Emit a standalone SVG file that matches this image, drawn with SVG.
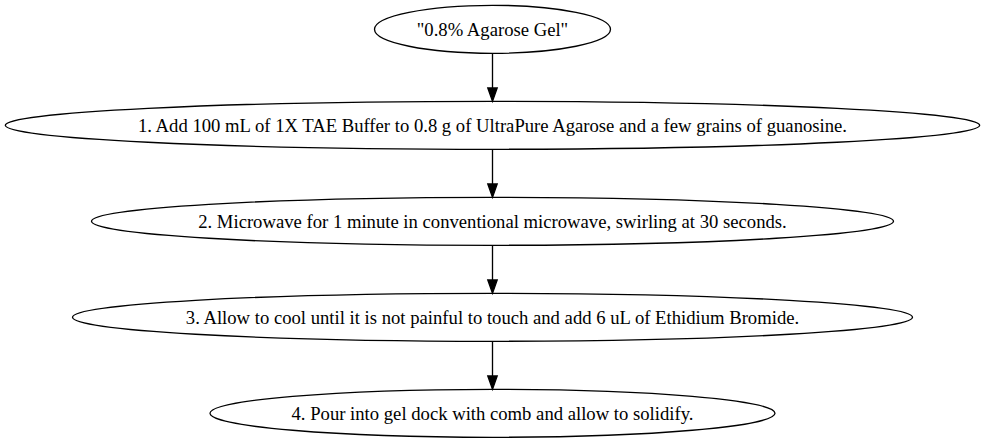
<svg xmlns="http://www.w3.org/2000/svg" width="985" height="443" viewBox="0 0 985 443">
  <style>
    .node ellipse { fill: none; stroke: #000; stroke-width: 1.33; }
    .node text { font-family: "Liberation Serif", "Times New Roman", serif; font-size: 18.67px; fill: #000; text-anchor: middle; }
    .edge line { stroke: #000; stroke-width: 1.33; }
    .edge polygon { fill: #000; stroke: #000; stroke-width: 1.33; }
  </style>
  <rect width="985" height="443" fill="#fff"/>

  <!-- connectors -->
  <g id="edges">
    <g class="edge"><line x1="492.5" y1="53.3" x2="492.5" y2="88"/><polygon points="487.8,88 492.5,101.3 497.2,88"/></g>
    <g class="edge"><line x1="492.5" y1="149.3" x2="492.5" y2="184"/><polygon points="487.8,184 492.5,197.3 497.2,184"/></g>
    <g class="edge"><line x1="492.5" y1="245.3" x2="492.5" y2="280"/><polygon points="487.8,280 492.5,293.3 497.2,280"/></g>
    <g class="edge"><line x1="492.5" y1="341.3" x2="492.5" y2="376"/><polygon points="487.8,376 492.5,389.3 497.2,376"/></g>
  </g>

  <g id="node0" class="node">
    <ellipse cx="492.5" cy="29.3" rx="118" ry="24"/>
    <text x="492.5" y="36.3">"0.8% Agarose Gel"</text>
  </g>
  <g id="node1" class="node">
    <ellipse cx="492.5" cy="125.3" rx="487.2" ry="24"/>
    <text x="492.5" y="132.3">1. Add 100 mL of 1X TAE Buffer to 0.8 g of UltraPure Agarose and a few grains of guanosine.</text>
  </g>
  <g id="node2" class="node">
    <ellipse cx="492.5" cy="221.3" rx="401" ry="24"/>
    <text x="492.5" y="228.3">2. Microwave for 1 minute in conventional microwave, swirling at 30 seconds.</text>
  </g>
  <g id="node3" class="node">
    <ellipse cx="492.5" cy="317.3" rx="420" ry="24"/>
    <text x="492.5" y="324.3">3. Allow to cool until it is not painful to touch and add 6 uL of Ethidium Bromide.</text>
  </g>
  <g id="node4" class="node">
    <ellipse cx="492.5" cy="413.3" rx="282.5" ry="24"/>
    <text x="492.5" y="420.3">4. Pour into gel dock with comb and allow to solidify.</text>
  </g>
</svg>
